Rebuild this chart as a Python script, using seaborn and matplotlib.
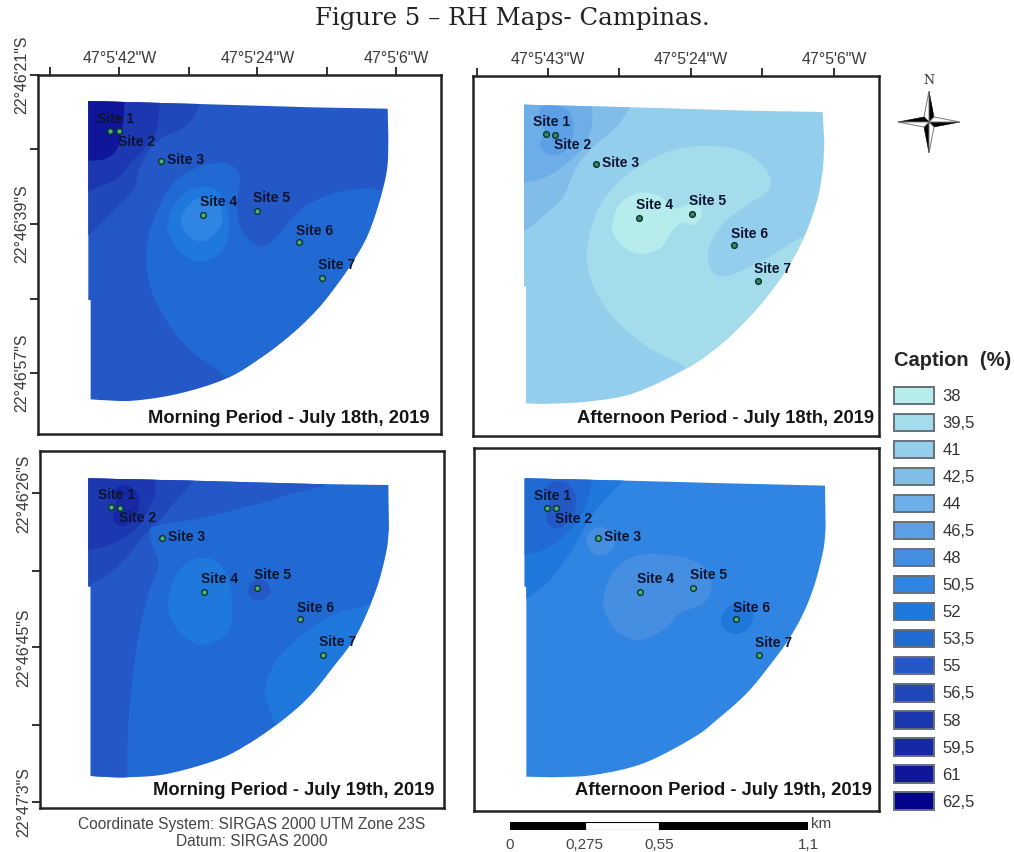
import numpy as np
import pandas as pd
from matplotlib import pyplot as plt
from matplotlib.patches import Patch, Polygon
import seaborn as sns

# Классы легенды (RH, %) и их цвета
rh_labels = ['38', '39,5', '41', '42,5', '44', '46,5', '48', '50,5', '52', '53,5', '55', '56,5', '58', '59,5', '61', '62,5']
rh_colors = ['#B6EDEC', '#A5DCEB', '#93CEEC', '#82BDEA', '#6DAEE9', '#5B9FE6', '#458EE2', '#2F85E1',
             '#1F78DC', '#226AD3', '#2358C6', '#2048BB', '#1C38B0', '#1728A5', '#10169A', '#04048A']

site_names = ['Site 1', 'Site 2', 'Site 3', 'Site 4', 'Site 5', 'Site 6', 'Site 7']

morning18_x = [331, 357, 483, 610, 770, 897, 966]
morning18_y = [393, 394, 482, 646, 634, 727, 834]
morning18_top = [(265, 303), (600, 312), (940, 322), (1163, 326)]
morning18_arc = [(1165, 420), (1162, 500), (1145, 580), (1105, 700), (1055, 790), (995, 875), (945, 935), (875, 1002), (787, 1070),
                 (680, 1135), (540, 1180), (400, 1202), (300, 1200)]
morning18_left = [(272, 1198), (272, 900), (265, 900)]
morning18_zones = [
    ('55', None),
    ('56,5', [(150, 780), (265, 705), (330, 640), (400, 570), (420, 500), (470, 425), (560, 375), (600, 312), (620, 220), (150, 220)]),
    ('58', [(150, 630), (265, 575), (350, 535), (400, 480), (465, 400), (480, 310), (490, 220), (150, 220)]),
    ('61', [(150, 485), (265, 482), (320, 475), (352, 445), (365, 395), (372, 330), (360, 250), (150, 250)]),
    ('53,5', [(740, 1240), (680, 1135), (560, 1040), (470, 910), (438, 780), (460, 660), (520, 550), (600, 500), (680, 490), (720, 530),
              (710, 620), (730, 700), (785, 740), (830, 710), (900, 630), (1000, 580), (1100, 565), (1160, 575), (1300, 600), (1300, 1240)]),
    ('52', [(503, 680), (520, 620), (570, 570), (640, 565), (680, 620), (685, 700), (660, 760), (600, 785), (545, 760), (515, 720)]),
    ('50,5', [(542, 660), (570, 610), (620, 590), (660, 620), (665, 670), (630, 715), (590, 722), (555, 695)]),
]

afternoon18_x = [257, 284, 408, 537, 697, 823, 893]
afternoon18_y = [401, 404, 491, 655, 643, 736, 844]
afternoon18_top = [(192, 314), (520, 322), (860, 332), (1088, 336)]
afternoon18_arc = [(1093, 430), (1088, 510), (1072, 600), (1035, 705), (985, 800), (927, 882), (867, 952), (780, 1035), (680, 1105),
                   (520, 1180), (380, 1205), (250, 1212)]
afternoon18_left = [(198, 1210), (198, 860), (192, 860)]
afternoon18_zones = [
    ('41', None),
    ('42,5', [(100, 760), (192, 695), (260, 640), (310, 590), (350, 500), (400, 440), (470, 380), (510, 322), (560, 250), (100, 250)]),
    ('44', [(100, 555), (192, 548), (260, 530), (320, 490), (370, 440), (395, 380), (395, 320), (395, 250), (100, 250)]),
    ('46,5', [(240, 435), (270, 465), (320, 450), (340, 400), (335, 350), (310, 322), (250, 318), (238, 350), (255, 400)]),
    ('39,5', [(760, 1210), (680, 1105), (560, 1040), (450, 940), (390, 830), (385, 720), (430, 600), (520, 510), (640, 450), (760, 438),
              (860, 460), (925, 520), (925, 570), (870, 610), (790, 670), (745, 750), (755, 810), (790, 830), (850, 810), (930, 770),
              (1040, 705), (1200, 660), (1220, 1210)]),
    ('38', [(457, 670), (480, 610), (540, 578), (600, 590), (640, 625), (680, 615), (705, 612), (727, 640), (700, 675), (665, 668),
            (635, 695), (600, 745), (540, 762), (490, 740), (460, 700)]),
]

morning19_x = [333, 360, 485, 613, 772, 899, 968]
morning19_y = [202, 204, 293, 456, 445, 537, 645]
morning19_top = [(265, 115), (580, 122), (950, 132), (1165, 135)]
morning19_arc = [(1167, 265), (1160, 330), (1135, 430), (1100, 520), (1060, 600), (1000, 680), (925, 772), (835, 850), (740, 915),
                 (650, 960), (500, 1002), (380, 1012), (300, 1010)]
morning19_left = [(272, 1008), (272, 440), (265, 440)]
morning19_zones = [
    ('53,5', None),
    ('55', [(380, 1100), (382, 1012), (385, 850), (410, 620), (445, 460), (475, 375), (455, 310), (450, 270), (480, 255), (600, 235),
            (780, 190), (880, 160), (985, 130), (1050, 60), (180, 60), (180, 1100)]),
    ('56,5', [(170, 500), (265, 438), (330, 400), (390, 340), (445, 270), (480, 240), (530, 180), (580, 122), (620, 60), (170, 60)]),
    ('58', [(170, 340), (265, 330), (340, 310), (400, 275), (440, 220), (465, 160), (465, 115), (465, 50), (170, 50)]),
    ('59,5', [(345, 150), (370, 135), (405, 150), (418, 190), (400, 240), (365, 258), (340, 240), (348, 195)]),
    ('52', [(505, 490), (530, 400), (590, 355), (650, 365), (690, 430), (695, 540), (670, 590), (610, 615), (550, 590), (515, 540)]),
    ('55', [(745, 445), (765, 420), (795, 425), (812, 450), (800, 472), (770, 480), (750, 470)]),
    ('52', [(795, 745), (830, 660), (900, 590), (990, 530), (1070, 505), (1200, 510), (1200, 950), (880, 950), (830, 860), (805, 800)]),
]

afternoon19_x = [261, 288, 413, 541, 700, 828, 896]
afternoon19_y = [203, 205, 293, 457, 445, 537, 646]
afternoon19_top = [(194, 115), (500, 122), (800, 130), (1095, 137)]
afternoon19_arc = [(1097, 265), (1090, 330), (1065, 430), (1030, 520), (985, 600), (930, 675), (860, 760), (770, 840), (700, 893),
                   (550, 970), (400, 1005), (280, 1012)]
afternoon19_left = [(199, 1010), (199, 440), (194, 440)]
afternoon19_zones = [
    ('50,5', None),
    ('52', [(100, 560), (194, 480), (260, 430), (330, 340), (400, 220), (490, 122), (560, 40), (100, 40)]),
    ('53,5', [(100, 360), (194, 345), (260, 325), (330, 270), (380, 190), (395, 120), (400, 50), (100, 50)]),
    ('55', [(258, 235), (280, 264), (310, 258), (340, 220), (347, 170), (322, 130), (280, 125), (258, 150), (268, 195)]),
    ('48', [(380, 300), (395, 270), (430, 262), (465, 300), (450, 335), (415, 345), (390, 330)]),
    ('48', [(430, 480), (450, 410), (500, 360), (570, 342), (680, 355), (740, 390), (755, 440), (730, 490), (660, 520), (610, 570),
            (540, 600), (480, 580), (440, 530)]),
    ('52', [(783, 540), (800, 505), (840, 490), (878, 515), (870, 560), (830, 582), (795, 570)]),
]

top_ticks_a = [150, 358, 566, 772, 981, 1188]
top_labels_a = ['', '47°5\'42"W', '', '47°5\'24"W', '', '47°5\'6"W']
top_ticks_b = [50, 263, 478, 693, 907, 1122]
top_labels_b = ['', '47°5\'43"W', '', '47°5\'24"W', '', '47°5\'6"W']
left_ticks_a = [224, 448, 672, 896, 1118]
left_labels_a = ['22°46\'21"S', '', '22°46\'39"S', '', '22°46\'57"S']
left_ticks_c = [160, 392, 622, 854, 1085]
left_labels_c = ['22°46\'26"S', '', '22°46\'45"S', '', '22°47\'3"S']

scale_km = [0, 0.275, 0.55, 1.1]
scale_labels = ['0', '0,275', '0,55', '1,1']

sns.set_theme(style='white')
plt.rcParams['font.family'] = ['Liberation Sans', 'DejaVu Sans']

W, H = 1014, 852
fig = plt.figure(figsize=(W / 100, H / 100), dpi=100)
color_of = dict(zip(rh_labels, rh_colors))
# смещения подписей точек относительно самих точек
label_dx = [17, 53, 75, 46, 46, 47, 44]
label_dy = [-36, 31, -3, -40, -40, -34, -38]


def spline(p0, p1, p2, p3, n=12):
    # участок сплайна Катмулла-Рома
    t = np.linspace(0, 1, n, endpoint=False)[:, None]
    return 0.5 * (2 * p1 + (p2 - p0) * t + (2 * p0 - 5 * p1 + 4 * p2 - p3) * t ** 2 + (3 * p1 - p0 - 3 * p2 + p3) * t ** 3)


def smooth(points):
    # замкнутая плавная граница зоны
    p = np.array(points, dtype=float)
    return np.vstack([spline(p[i - 1], p[i], p[(i + 1) % len(p)], p[(i + 2) % len(p)]) for i in range(len(p))])


def smooth_open(points):
    # открытая плавная линия (дуга сектора)
    p = np.array(points, dtype=float)
    p = np.vstack([2 * p[0] - p[1], p, 2 * p[-1] - p[-2]])
    return np.vstack([spline(p[i - 1], p[i], p[i + 1], p[i + 2]) for i in range(1, len(p) - 2)])


def draw_map(box, xlim, ylim, top, arc, left, zones, xs, ys, title, title_xy, dot):
    l, t, r, b = box
    ax = fig.add_axes([l / W, 1 - b / H, (r - l) / W, (b - t) / H])
    ax.set_xlim(xlim)
    ax.set_ylim(ylim)
    outline = np.vstack([top, smooth_open(arc), arc[-1:], left])
    sector_patch = Polygon(outline, closed=True, fc=color_of[zones[0][0]], ec='none', zorder=1)
    ax.add_patch(sector_patch)
    for z, (rh, zone_pts) in enumerate(zones[1:]):
        zone = Polygon(smooth(zone_pts), closed=True, fc=color_of[rh], ec='none', zorder=2 + z)
        ax.add_patch(zone)
        zone.set_clip_path(sector_patch)
    sites = pd.DataFrame({'x': xs, 'y': ys})
    sns.scatterplot(data=sites, x='x', y='y', ax=ax, s=17, color=dot, edgecolor='#10302a', linewidth=1.0, zorder=30, legend=False)
    for name, x, y, dx, dy in zip(site_names, xs, ys, label_dx, label_dy):
        ax.text(x + dx, y + dy, name, ha='center', va='center', fontsize=10, fontweight='bold', color='#0b1530', zorder=31)
    ax.text(title_xy[0], title_xy[1], title, ha='right', va='center', fontsize=13.2, fontweight='bold', color='#151515', zorder=31)
    ax.set_xlabel('')
    ax.set_ylabel('')
    ax.set_xticks([])
    ax.set_yticks([])
    for s in ax.spines.values():
        s.set_linewidth(1.8)
        s.set_color('#222222')
    return ax


ax_a = draw_map((38.3, 74.7, 440.7, 434), (115, 1322), (1302, 224), morning18_top, morning18_arc, morning18_left, morning18_zones,
                morning18_x, morning18_y, 'Morning Period - July 18th, 2019', (1288, 1255), '#45B27A')
ax_b = draw_map((472.7, 76, 879.3, 436), (38, 1258), (1308, 228), afternoon18_top, afternoon18_arc, afternoon18_left, afternoon18_zones,
                afternoon18_x, afternoon18_y, 'Afternoon Period - July 18th, 2019', (1242, 1255), '#2E8B6B')
ax_c = draw_map((39.7, 450.7, 444.3, 808.3), (119, 1333), (1105, 32), morning19_top, morning19_arc, morning19_left, morning19_zones,
                morning19_x, morning19_y, 'Morning Period - July 19th, 2019', (1305, 1053), '#45B27A')
ax_d = draw_map((474, 448.3, 879.3, 811), (42, 1258), (1113, 25), afternoon19_top, afternoon19_arc, afternoon19_left, afternoon19_zones,
                afternoon19_x, afternoon19_y, 'Afternoon Period - July 19th, 2019', (1237, 1053), '#45B27A')

for ax, ticks, labels in [(ax_a, top_ticks_a, top_labels_a), (ax_b, top_ticks_b, top_labels_b)]:
    ax.set_xticks(ticks, labels)
    ax.tick_params(axis='x', top=True, labeltop=True, bottom=False, labelbottom=False, length=5.8, width=1.3, color='#222222',
                   labelsize=11.4, labelcolor='#3a3a3a', pad=0.5)
for ax, ticks, labels in [(ax_a, left_ticks_a, left_labels_a), (ax_c, left_ticks_c, left_labels_c)]:
    ax.set_yticks(ticks, labels)
    ax.tick_params(axis='y', left=True, length=5.8, width=1.3, color='#222222', labelsize=11.4, labelcolor='#3a3a3a', pad=0.5)
    for lab in ax.get_yticklabels():
        lab.set_rotation(90)
        lab.set_va('center')

# Заголовок и подписи системы координат
fig.text(512 / W, 1 - 19 / H, 'Figure 5 – RH Maps- Campinas.', ha='center', va='center', fontsize=17.6, family='DejaVu Serif', color='#222222')
fig.text(252 / W, 1 - 824 / H, 'Coordinate System: SIRGAS 2000 UTM Zone 23S', ha='center', va='center', fontsize=11.2, color='#444444')
fig.text(252 / W, 1 - 842 / H, 'Datum: SIRGAS 2000', ha='center', va='center', fontsize=11.2, color='#444444')

# Легенда
handles = [Patch(facecolor=c, edgecolor='#66707c', linewidth=1.4) for c in rh_colors]
leg = fig.legend(handles, rh_labels, loc='upper left', bbox_to_anchor=(894 / W, 1 - 351 / H), frameon=False, fontsize=12, labelcolor='#333333',
                 handlelength=2.4, handleheight=1.22, handletextpad=0.5, labelspacing=0.585, borderpad=0, borderaxespad=0,
                 title='Caption  (%)', title_fontproperties={'weight': 'bold', 'size': 14.5}, alignment='left')
leg._legend_box.sep = 12

# Масштабная линейка
ax_s = fig.add_axes([510 / W, 1 - 830 / H, 298 / W, 8 / H])
ax_s.set_xlim(scale_km[0], scale_km[-1])
ax_s.set_ylim(0, 1)
ax_s.barh(0.5, np.diff(scale_km), left=scale_km[:-1], height=1, color=['black', 'white', 'black'], edgecolor='black', linewidth=0.8)
ax_s.axis('off')
for km, lab in zip(scale_km, scale_labels):
    ax_s.text(km, -1.9, lab, ha='center', va='center', fontsize=11, color='#444444', clip_on=False)
ax_s.text(1.112, 0.7, 'km', ha='left', va='center', fontsize=11, color='#444444', clip_on=False)

# Роза ветров
ax_n = fig.add_axes([0, 0, 1, 1], facecolor='none')
ax_n.set_xlim(0, W)
ax_n.set_ylim(H, 0)
ax_n.axis('off')
cx, cy = 929, 122
for tip, side_a, side_b in [((0, -31), (5, -5), (-5, -5)), ((31, 0), (5, 5), (5, -5)), ((0, 31), (-5, 5), (5, 5)), ((-31, 0), (-5, -5), (-5, 5))]:
    ax_n.add_patch(Polygon([(cx, cy), (cx + tip[0], cy + tip[1]), (cx + side_a[0], cy + side_a[1])], fc='black', ec='black', lw=0.4))
    ax_n.add_patch(Polygon([(cx, cy), (cx + tip[0], cy + tip[1]), (cx + side_b[0], cy + side_b[1])], fc='white', ec='#777777', lw=0.7))
ax_n.text(929, 81, 'N', ha='center', va='center', fontsize=9, family='DejaVu Serif', color='#333333')

plt.savefig('out.png', dpi=100)
